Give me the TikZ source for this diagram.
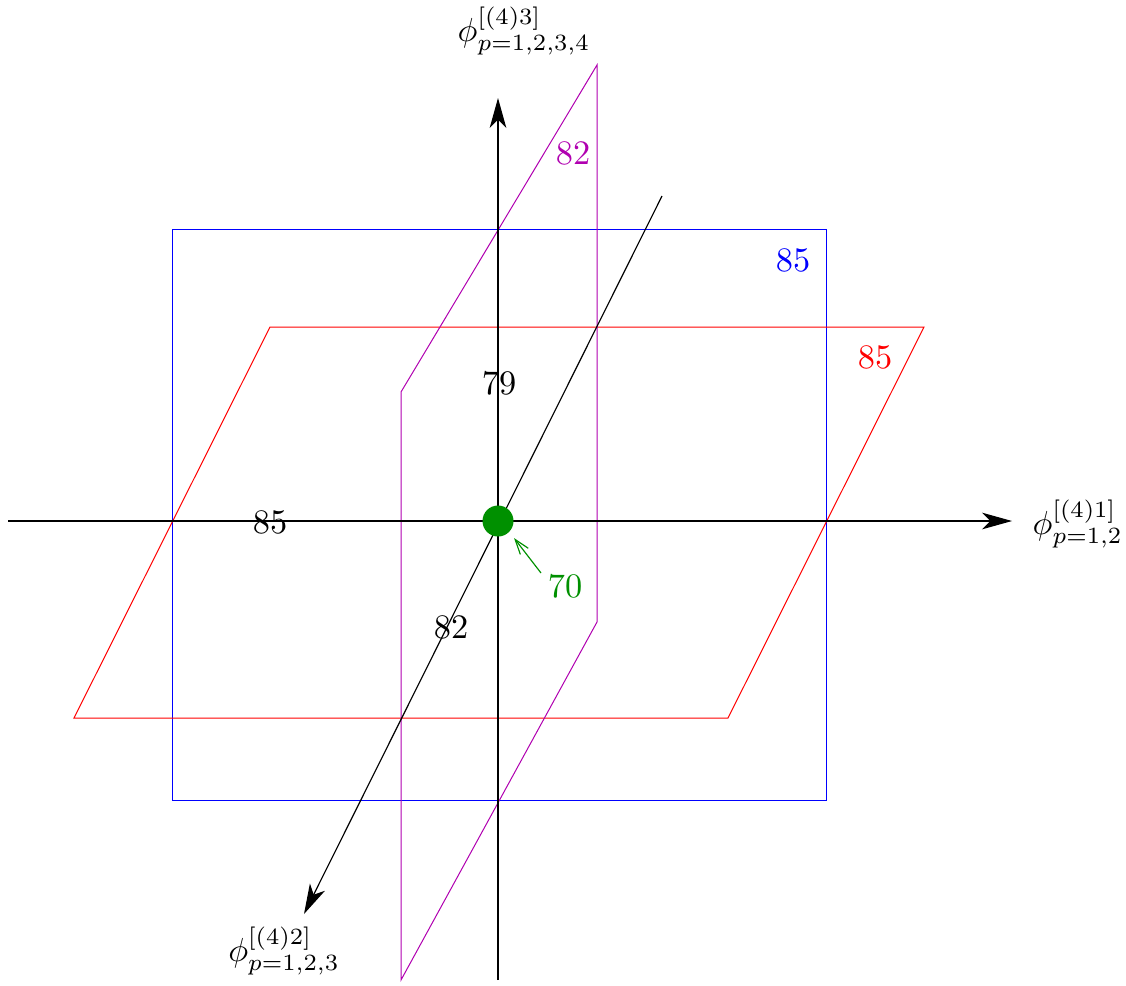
\documentclass[tikz,border=0pt]{standalone}
\usetikzlibrary{arrows.meta}
\definecolor{xblue}{RGB}{0,0,255}
\definecolor{xred}{RGB}{255,0,0}
\definecolor{xpurple}{RGB}{176,0,176}
\definecolor{xgreen}{RGB}{0,144,0}
\begin{document}
\begin{tikzpicture}[x=0.3pt,y=-0.3pt,
  axis/.style={line width=0.35pt,-{Stealth[length=9pt,width=5pt,inset=2.5pt]}},
  plane/.style={line width=0.3pt},
  lbl/.style={inner sep=0pt,font=\fontsize{10.3}{12}\selectfont}]
\useasboundingbox (0,0) rectangle (1126,985);
% planes
\draw[plane,xblue] (172,229) rectangle (826,800);
\draw[plane,xred] (270,327) -- (924,327) -- (728,718) -- (74,718) -- cycle;
\draw[plane,xpurple] (401,392) -- (597,65) -- (597,622) -- (401,980) -- cycle;
% axis endpoints
\coordinate (xs) at (8,521);
\coordinate (xe) at (1012,521);
\coordinate (ys) at (498,980);
\coordinate (ye) at (498,98);
\coordinate (ds) at (662,196);
\coordinate (de) at (304,914);
\draw[axis] (xs) -- (xe);
\draw[axis] (ys) -- (ye);
\draw[axis] (ds) -- (de);
% axis labels
\node[lbl,anchor=west] (lx) at (1032,524) {$\phi^{[(4)1]}_{p=1,2}$};
\node[lbl] (ly) at (524,31) {$\phi^{[(4)3]}_{p=1,2,3,4}$};
\node[lbl] (ld) at (284,951) {$\phi^{[(4)2]}_{p=1,2,3}$};
% origin dot
\node[circle,fill=xgreen,minimum size=31*0.3pt,inner sep=0pt] (o) at (498,521) {};
% labels
\node[lbl,text=xpurple] (n82p) at (573,153) {82};
\node[lbl,text=xblue] (n85b) at (793,260) {85};
\node[lbl,text=xred] (n85r) at (875,357) {85};
\node[lbl] (n79) at (499,383) {79};
\node[lbl] (n85) at (270,522) {85};
\node[lbl] (n82) at (451,627) {82};
\node[lbl,text=xgreen] (n70) at (565,586) {70};
\coordinate (gt) at (541,573);
\coordinate (gh) at (514,538);
\draw[xgreen,line width=0.35pt,-{Straight Barb[length=4.5pt,width=3pt]}] (gt) -- (gh);
\end{tikzpicture}
\end{document}
